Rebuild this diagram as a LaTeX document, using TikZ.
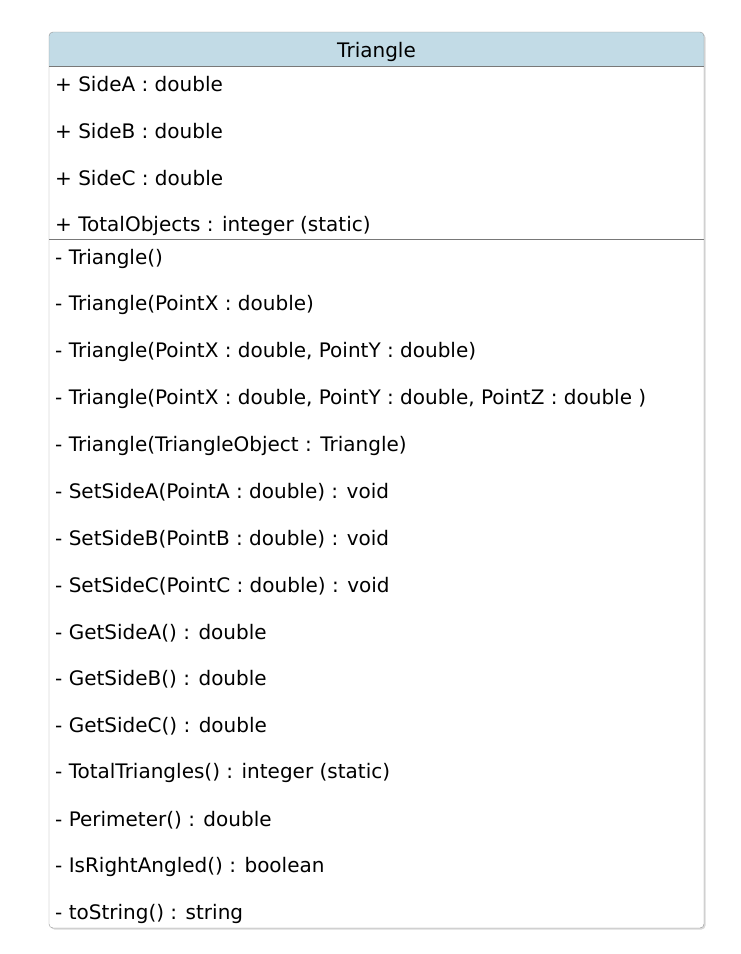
\documentclass[tikz,border=0pt]{standalone}
\usepackage{fontspec}
\setmainfont{DejaVu Sans}
\definecolor{hdr}{RGB}{194,219,230}
\definecolor{bord}{RGB}{150,150,150}
\definecolor{sep}{RGB}{120,120,120}
\begin{document}
\begin{tikzpicture}[x=1pt,y=-1pt,
  member/.style={anchor=west,inner sep=0pt,font=\fontsize{20}{23}\selectfont},
  title/.style={inner sep=0pt,font=\fontsize{20}{23}\selectfont}]
\useasboundingbox (0,0) rectangle (741,954);
\fill[black!15,rounded corners=4pt] (50.5,33.5) rectangle (705.5,929.5);
\begin{scope}
\clip[rounded corners=4pt] (49,32) rectangle (704,928);
\fill[white] (49,32) rectangle (704,928);
\fill[hdr] (49,32) rectangle (704,66);
\end{scope}
\draw[sep] (49,66) -- (704,66);
\draw[sep] (49,239) -- (704,239);
\draw[bord,rounded corners=4pt] (49,32) rectangle (704,928);
\node[title] (t) at (376.5,51.5) {Triangle};
\node[member] (a1) at (55,84.5) {+ SideA : double};
\node[member] (a2) at (55,131.5) {+ SideB : double};
\node[member] (a3) at (55,178.5) {+ SideC : double};
\node[member] (a4) at (55,225.5) {+ TotalObjects : integer (static)};
\foreach \t [count=\i from 0] in {
 {- Triangle()},
 {- Triangle(PointX : double)},
 {- Triangle(PointX : double, PointY : double)},
 {- Triangle(PointX : double, PointY : double, PointZ : double )},
 {- Triangle(TriangleObject : Triangle)},
 {- SetSideA(PointA : double) : void},
 {- SetSideB(PointB : double) : void},
 {- SetSideC(PointC : double) : void},
 {- GetSideA() : double},
 {- GetSideB() : double},
 {- GetSideC() : double},
 {- TotalTriangles() : integer (static)},
 {- Perimeter() : double},
 {- IsRightAngled() : boolean},
 {- toString() : string}}
 { \node[member] (m\i) at (55,258.5+46.8*\i) {\t}; }
\end{tikzpicture}
\end{document}
